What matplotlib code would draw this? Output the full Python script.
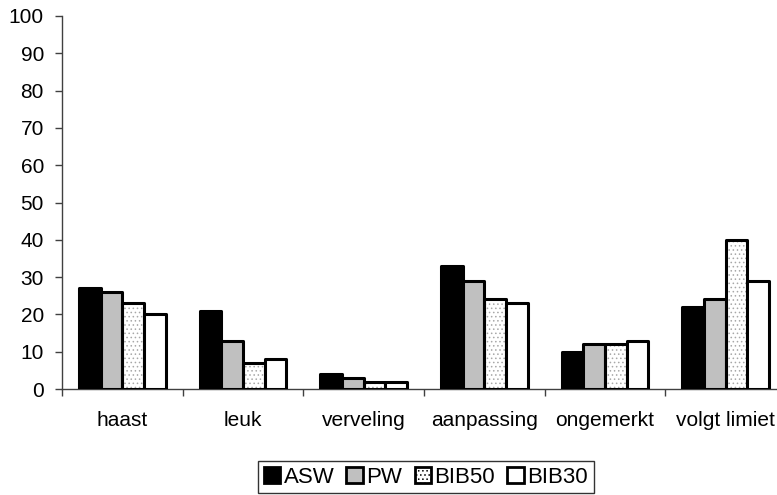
import matplotlib
matplotlib.use("Agg")
import matplotlib.pyplot as plt
from matplotlib.patches import Patch
import numpy as np

plt.rcParams['font.family'] = ['Liberation Sans', 'DejaVu Sans']
plt.rcParams['hatch.linewidth'] = 0.6

categories = ["haast", "leuk", "verveling", "aanpassing", "ongemerkt", "volgt limiet"]
series_names = ["ASW", "PW", "BIB50", "BIB30"]
asw = [27, 21, 4, 33, 10, 22]
pw = [26, 13, 3, 29, 12, 24]
bib50 = [23, 7, 2, 24, 12, 40]
bib30 = [20, 8, 2, 23, 13, 29]
yticks = list(range(0, 101, 10))

values = [asw, pw, bib50, bib30]
faces = ["black", "#c0c0c0", "white", "white"]
hatches = [None, None, "....", None]

fig = plt.figure(figsize=(7.77, 4.95), dpi=100)
ax = fig.add_axes([0.0798, 0.2141, 1.0116 - 0.0798, 0.9677 - 0.2141])

x = np.arange(len(categories))
bw = 0.18
offsets = (np.arange(4) - 1.5) * bw
for vals, fc, h, off, name in zip(values, faces, hatches, offsets, series_names):
    if h:
        ax.bar(x + off, vals, bw, color=fc, edgecolor="#a8a8a8", hatch=h, linewidth=0, zorder=2)
    ax.bar(x + off, vals, bw, facecolor=fc if not h else "none", edgecolor="black",
           linewidth=2.2, joinstyle="round", zorder=3, label=name)

ax.set_xlim(-0.5, len(categories) - 0.5)
ax.set_ylim(0, 100)
ax.set_yticks(yticks)
ax.tick_params(axis='y', labelsize=15, length=5, width=1, color="#404040", pad=8)
ax.set_xticks(x)
ax.set_xticklabels(categories)
ax.set_xticks(np.arange(len(categories) + 1) - 0.5, minor=True)
ax.tick_params(axis='x', which='major', length=0, labelsize=15, pad=16)
ax.tick_params(axis='x', which='minor', length=5, width=1, color="#404040")
for s in ["top", "right"]:
    ax.spines[s].set_visible(False)
for s in ["left", "bottom"]:
    ax.spines[s].set_color("#404040")
    ax.spines[s].set_linewidth(1)

proxies = [
    Patch(facecolor="black", edgecolor="black", linewidth=2),
    Patch(facecolor="#c0c0c0", edgecolor="black", linewidth=2),
    Patch(facecolor="white", edgecolor="black", linewidth=2, hatch="...."),
    Patch(facecolor="white", edgecolor="black", linewidth=2),
]
leg = fig.legend(proxies, series_names, loc="center", bbox_to_anchor=(0.548, 0.036),
                 ncol=4, fontsize=16, frameon=True, fancybox=False, edgecolor="black",
                 handlelength=0.75, handleheight=0.75, handletextpad=0.15, columnspacing=0.55,
                 borderpad=0.25, borderaxespad=0)
leg.get_frame().set_linewidth(1)

fig.savefig("out.png", dpi=100)
